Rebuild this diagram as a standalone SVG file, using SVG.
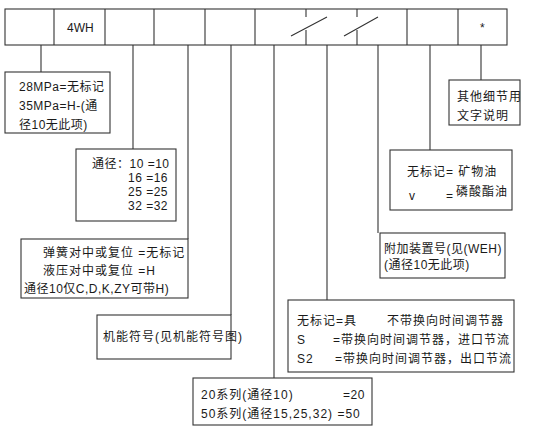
<svg xmlns="http://www.w3.org/2000/svg" width="535" height="432" viewBox="0 0 535 432">
<style>
.b{fill:#fff;stroke:#333;stroke-width:1.1}
.l{stroke:#333;stroke-width:1.1;fill:none}
text{font-family:"Liberation Sans","Noto Sans CJK SC",sans-serif;font-size:12px;fill:#1a1a1a;letter-spacing:1px}
</style>
<rect width="535" height="432" fill="#fff"/>
<g id="code-bar">
<rect class="b" x="5" y="9" width="502" height="36"/>
<path class="l" d="M54,9V45M105,9V45M154,9V45M205,9V45M255,9V45M306,9V17M306,30V45M357,9V17M357,30V45M407,9V45M458,9V45"/>
<path class="l" d="M291,36L327,17M344,36L378,17"/>
<text x="67" y="32" style="letter-spacing:0">4WH</text>
<text x="480" y="32">*</text>
</g>
<g id="connectors">
<path class="l" d="M41,45V72M133,45V149M188,45V239M231,45V315M274,45V378M327,45V300M378,45V233M430,45V150M481,45V80"/>
</g>
<g id="n-pressure">
<rect class="b" x="5" y="72" width="105" height="61"/>
<text x="19" y="91" style="letter-spacing:0.5px">28MPa=无标记</text>
<text x="19" y="110" style="letter-spacing:0.5px">35MPa=H-(通</text>
<text x="19" y="129" style="letter-spacing:0.5px">径10无此项)</text>
</g>
<g id="n-size">
<rect class="b" x="76" y="149" width="100" height="72"/>
<text x="92" y="168" style="letter-spacing:0.5px">通径：10 =10</text>
<text x="128" y="182" style="letter-spacing:0.5px">16 =16</text>
<text x="128" y="196" style="letter-spacing:0.5px">25 =25</text>
<text x="128" y="210" style="letter-spacing:0.5px">32 =32</text>
</g>
<g id="n-return">
<rect class="b" x="21" y="239" width="167" height="59"/>
<text x="43" y="257">弹簧对中或复位 =无标记</text>
<text x="43" y="275">液压对中或复位 =H</text>
<text x="24" y="293" style="letter-spacing:0.5px">通径10仅C,D,K,ZY可带H)</text>
</g>
<g id="n-symbol">
<rect class="b" x="97" y="315" width="134" height="44"/>
<text x="103" y="341">机能符号(见机能符号图)</text>
</g>
<g id="n-series">
<rect class="b" x="193" y="378" width="179" height="47"/>
<text x="201" y="399">20系列(通径10)</text>
<text x="343" y="399" style="letter-spacing:0.5px">=20</text>
<text x="201" y="418">50系列(通径15,25,32) =50</text>
</g>
<g id="n-timer">
<rect class="b" x="288" y="300" width="226" height="72"/>
<text x="297" y="325">无标记=具</text>
<text x="387" y="325">不带换向时间调节器</text>
<text x="297" y="344">S</text>
<text x="333" y="344">=带换向时间调节器，进口节流</text>
<text x="297" y="363">S2</text>
<text x="335" y="363">=带换向时间调节器，出口节流</text>
</g>
<g id="n-extra">
<rect class="b" x="380" y="233" width="125" height="45"/>
<text x="384" y="253" style="letter-spacing:0.5px">附加装置号(见(WEH)</text>
<text x="384" y="269" style="letter-spacing:0.5px">(通径10无此项)</text>
</g>
<g id="n-fluid">
<rect class="b" x="390" y="150" width="122" height="60"/>
<text x="407" y="176">无标记= 矿物油</text>
<text x="409" y="200">v</text>
<text x="446" y="200">=</text>
<text x="456" y="196">磷酸酯油</text>
</g>
<g id="n-other">
<rect class="b" x="449" y="80" width="71" height="45"/>
<text x="457" y="101">其他细节用</text>
<text x="457" y="120">文字说明</text>
</g>
</svg>
